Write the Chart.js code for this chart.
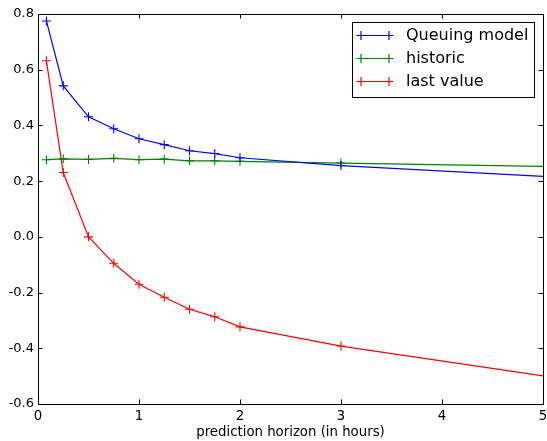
<!DOCTYPE html>
<html><head><meta charset="utf-8">
<script src="https://cdn.jsdelivr.net/npm/chart.js@4/dist/chart.umd.min.js"></script>
<style>html,body{margin:0;padding:0;background:#fff}#wrap{width:547px;height:441px}</style>
</head><body><div id="wrap"><canvas id="c" width="547" height="441"></canvas></div>
<script>
const hours = [0.0833, 0.25, 0.5, 0.75, 1, 1.25, 1.5, 1.75, 2, 3, 5];
const queuing = [0.775, 0.542, 0.431, 0.388, 0.352, 0.331, 0.309, 0.299, 0.284, 0.256, 0.217];
const historic = [0.277, 0.280, 0.278, 0.282, 0.277, 0.279, 0.273, 0.273, 0.271, 0.265, 0.253];
const lastValue = [0.632, 0.231, 0.0, -0.095, -0.170, -0.217, -0.260, -0.287, -0.323, -0.392, -0.499];
const seriesNames = ['Queuing model', 'historic', 'last value'];
const seriesColors = ['#0000ff', '#008000', '#ff0000'];
const xTicks = [0, 1, 2, 3, 4, 5];
const yTicks = [-0.6, -0.4, -0.2, 0.0, 0.2, 0.4, 0.6, 0.8];
const xTitle = 'prediction horizon (in hours)';

const FONT = 'DejaVu Sans';
const series = [queuing, historic, lastValue];
const lastIdx = hours.length - 1;
const datasets = series.map((vals, i) => ({
  label: seriesNames[i],
  data: hours.map((h, j) => ({x: h, y: vals[j]})),
  borderColor: seriesColors[i],
  backgroundColor: seriesColors[i],
  borderWidth: 1.2,
  pointStyle: 'cross',
  pointRadius: ctx => ctx.dataIndex === lastIdx ? 0 : 4.5,
  pointBorderWidth: 1.1,
  pointHoverRadius: 0,
  tension: 0,
  fill: false
}));

const framePlugin = {
  id: 'frame',
  afterDatasetsDraw(chart) {
    const {ctx, chartArea: a, scales} = chart;
    ctx.save();
    ctx.strokeStyle = '#000';
    ctx.lineWidth = 1;
    ctx.strokeRect(Math.round(a.left) + 0.5, Math.round(a.top) + 0.5, Math.round(a.right - a.left), Math.round(a.bottom - a.top));
    const L = 4.5;
    ctx.beginPath();
    xTicks.forEach(v => {
      const px = Math.round(scales.x.getPixelForValue(v)) + 0.5;
      ctx.moveTo(px, a.bottom); ctx.lineTo(px, a.bottom - L);
      ctx.moveTo(px, a.top); ctx.lineTo(px, a.top + L);
    });
    yTicks.forEach(v => {
      const py = Math.round(scales.y.getPixelForValue(v)) + 0.5;
      ctx.moveTo(a.left, py); ctx.lineTo(a.left + L, py);
      ctx.moveTo(a.right, py); ctx.lineTo(a.right - L, py);
    });
    ctx.stroke();

    // legend
    const bx = 352.5, by = 22.5, bw = 182, bh = 75;
    ctx.fillStyle = '#fff';
    ctx.fillRect(bx, by, bw, bh);
    ctx.strokeRect(bx, by, bw, bh);
    ctx.font = '16px "' + FONT + '"';
    ctx.textBaseline = 'middle';
    ctx.textAlign = 'left';
    seriesNames.forEach((name, i) => {
      const y = 35.5 + i * 23;
      const x1 = 361, x2 = 389;
      ctx.strokeStyle = seriesColors[i];
      ctx.lineWidth = 1.2;
      ctx.beginPath();
      ctx.moveTo(x1, y); ctx.lineTo(x2, y);
      [x1, x2].forEach(x => {
        ctx.moveTo(x - 4.5, y); ctx.lineTo(x + 4.5, y);
        ctx.moveTo(x, y - 4.5); ctx.lineTo(x, y + 4.5);
      });
      ctx.stroke();
      ctx.fillStyle = '#000';
      ctx.fillText(name, 406, y);
    });
    ctx.restore();
  }
};

new Chart(document.getElementById('c'), {
  type: 'line',
  data: {datasets},
  options: {
    responsive: false,
    animation: false,
    devicePixelRatio: 1,
    layout: {autoPadding: false, padding: {left: 0, top: 14, right: 4, bottom: 0}},
    plugins: {legend: {display: false}, tooltip: {enabled: false}},
    scales: {
      x: {
        type: 'linear', min: 0, max: 5,
        afterFit: s => { s.height = 37; s.paddingLeft = 0; s.paddingRight = 0; },
        afterBuildTicks: s => { s.ticks = xTicks.map(v => ({value: v})); },
        grid: {display: false, drawTicks: false},
        border: {display: false},
        ticks: {color: '#000', font: {family: FONT, size: 13.3}, padding: 5, maxRotation: 0,
                callback: v => String(v)},
        title: {display: true, text: xTitle, color: '#000', font: {family: FONT, size: 13.3}, padding: {top: 0, bottom: 0}}
      },
      y: {
        type: 'linear', min: -0.6, max: 0.8,
        afterFit: s => { s.width = 38; s.paddingTop = 0; s.paddingBottom = 0; },
        afterBuildTicks: s => { s.ticks = yTicks.map(v => ({value: v})); },
        grid: {display: false, drawTicks: false},
        border: {display: false},
        ticks: {color: '#000', font: {family: FONT, size: 13}, padding: 4,
                callback: v => (Math.abs(v) < 1e-9 ? 0 : v).toFixed(1)}
      }
    }
  },
  plugins: [framePlugin]
});
</script>
</body></html>
